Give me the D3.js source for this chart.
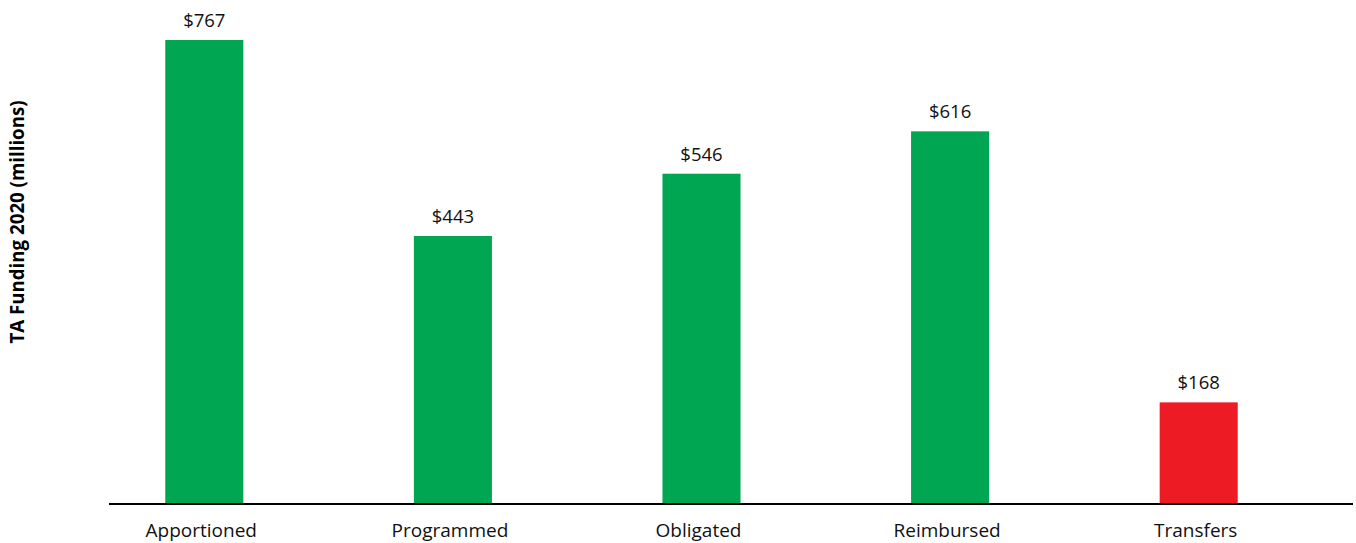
<!DOCTYPE html>
<html>
<head>
<meta charset="utf-8">
<script src="https://cdn.jsdelivr.net/npm/d3@7"></script>
<style>
  html, body { margin: 0; padding: 0; background: #fff; }
  svg { display: block; font-family: "Open Sans", Lato, sans-serif; }
</style>
</head>
<body>
<svg id="chart" width="1356" height="543"></svg>
<script>
// TA funding stages, 2020 (millions of dollars)
const categories = ["Apportioned", "Programmed", "Obligated", "Reimbursed", "Transfers"];
const values = [767, 443, 546, 616, 168];
const barColors = ["#00A651", "#00A651", "#00A651", "#00A651", "#ED1C24"];
const yTitle = "TA Funding 2020 (millions)";

const svg = d3.select("#chart");
const baseY = 504;

const x = d3.scaleBand()
  .domain(categories)
  .range([80, 1323])
  .paddingInner(0.686)
  .paddingOuter(0.343);

const y = d3.scaleLinear()
  .domain([0, 767])
  .range([baseY, 40]);

// bars
svg.append("g")
  .selectAll("rect")
  .data(categories)
  .join("rect")
  .attr("x", d => x(d))
  .attr("y", (d, i) => y(values[i]))
  .attr("width", x.bandwidth())
  .attr("height", (d, i) => y(0) - y(values[i]))
  .attr("fill", (d, i) => barColors[i]);

// value labels
svg.append("g")
  .selectAll("text")
  .data(categories)
  .join("text")
  .attr("x", d => x(d) + x.bandwidth() / 2)
  .attr("y", (d, i) => y(values[i]) - 13)
  .attr("text-anchor", "middle")
  .attr("font-size", 18.5)
  .attr("fill", "#111")
  .text((d, i) => "$" + values[i]);

// category axis
const xAxis = svg.append("g")
  .attr("transform", `translate(0,${baseY})`)
  .call(d3.axisBottom(x).tickSize(0).tickPadding(20));
xAxis.select(".domain").remove();
xAxis.selectAll("text")
  .attr("dx", -3)
  .attr("font-size", 19)
  .attr("font-family", "'Open Sans', Lato, sans-serif")
  .attr("fill", "#111");

svg.append("line")
  .attr("x1", 109).attr("x2", 1353)
  .attr("y1", baseY).attr("y2", baseY)
  .attr("stroke", "#000")
  .attr("stroke-width", 2.2);

// y-axis title
svg.append("text")
  .attr("transform", "translate(24,222) rotate(-90)")
  .attr("text-anchor", "middle")
  .attr("font-size", 18.7)
  .attr("font-weight", "bold")
  .attr("fill", "#000")
  .text(yTitle);
</script>
</body>
</html>
